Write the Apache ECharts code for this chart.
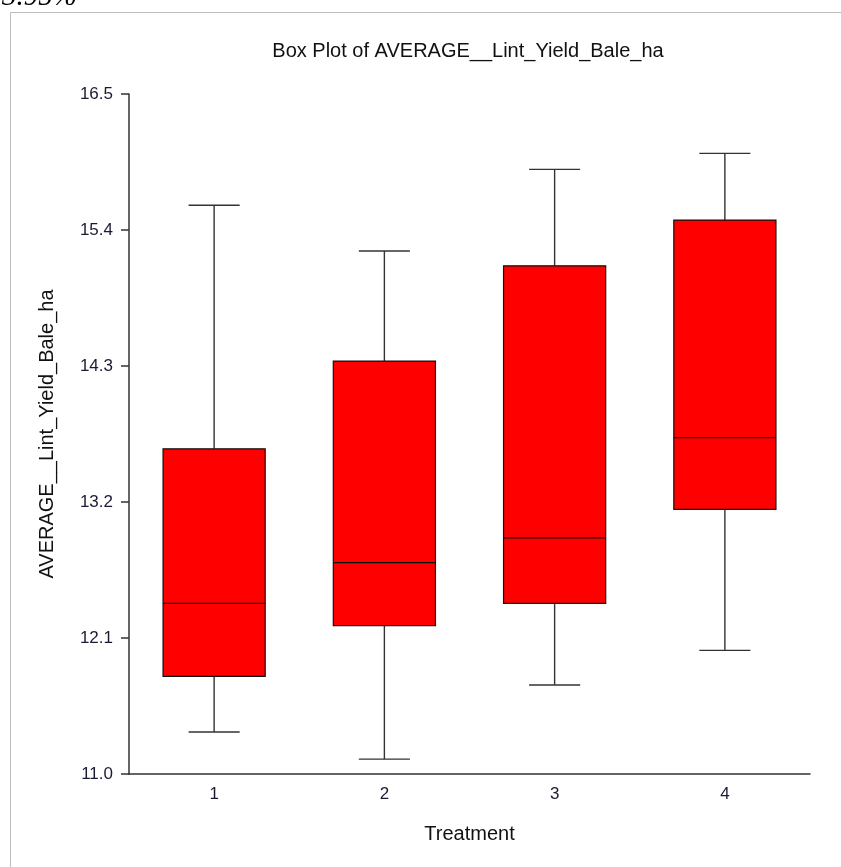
<!DOCTYPE html>
<html>
<head>
<meta charset="utf-8">
<script src="https://cdn.jsdelivr.net/npm/echarts@6/dist/echarts.min.js"></script>
<style>html,body{margin:0;padding:0;background:#fff}#c{width:841px;height:867px}</style>
</head>
<body>
<div id="c"></div>
<script>
var categories = ['1', '2', '3', '4'];
var whiskerLow = [11.34, 11.12, 11.72, 12.00];
var q1 = [11.79, 12.20, 12.38, 13.14];
var median = [12.38, 12.71, 12.91, 13.72];
var q3 = [13.63, 14.34, 15.11, 15.48];
var whiskerHigh = [15.60, 15.23, 15.89, 16.02];
var yTicks = [11.0, 12.1, 13.2, 14.3, 15.4, 16.5];

var data = categories.map(function (c, i) {
  return [i, whiskerLow[i], q1[i], median[i], q3[i], whiskerHigh[i]];
});

var chart = echarts.init(document.getElementById('c'), null, {renderer: 'canvas'});
var font = 'Liberation Sans, Arial, sans-serif';

function renderItem(params, api) {
  var x = api.value(0);
  var pLow = api.coord([x, api.value(1)]);
  var pQ1 = api.coord([x, api.value(2)]);
  var pMed = api.coord([x, api.value(3)]);
  var pQ3 = api.coord([x, api.value(4)]);
  var pHigh = api.coord([x, api.value(5)]);
  var bw = api.size([1, 0])[0] * 0.6;
  var cw = bw / 2;
  var cx = pQ1[0];
  var wStyle = {stroke: '#333', lineWidth: 1.4};
  return {
    type: 'group',
    children: [
      {type: 'line', shape: {x1: cx, y1: pHigh[1], x2: cx, y2: pQ3[1]}, style: wStyle},
      {type: 'line', shape: {x1: cx, y1: pLow[1], x2: cx, y2: pQ1[1]}, style: wStyle},
      {type: 'line', shape: {x1: cx - cw / 2, y1: pHigh[1], x2: cx + cw / 2, y2: pHigh[1]}, style: wStyle},
      {type: 'line', shape: {x1: cx - cw / 2, y1: pLow[1], x2: cx + cw / 2, y2: pLow[1]}, style: wStyle},
      {type: 'rect', shape: {x: cx - bw / 2, y: pQ3[1], width: bw, height: pQ1[1] - pQ3[1]},
        style: {fill: '#ff0000', stroke: '#111', lineWidth: 1.2}},
      {type: 'line', shape: {x1: cx - bw / 2, y1: pMed[1], x2: cx + bw / 2, y2: pMed[1]},
        style: {stroke: '#111', lineWidth: 1.2}}
    ]
  };
}

chart.setOption({
  animation: false,
  backgroundColor: '#fff',
  title: {
    text: 'Box Plot of AVERAGE__Lint_Yield_Bale_ha',
    left: 463, top: 36, textAlign: 'center',
    textStyle: {fontFamily: font, fontSize: 20, fontWeight: 'normal', color: '#111'}
  },
  graphic: [
    {type: 'rect', shape: {x: 10.5, y: 12.5, width: 900, height: 900},
      style: {fill: 'none', stroke: '#bdbdbd', lineWidth: 1}, silent: true},
    {type: 'text', left: 2, top: -17, style: {text: '3.95%', fontFamily: 'Liberation Serif, serif', fontStyle: 'italic', fontSize: 29, fill: '#000'}}
  ],
  grid: {left: 129, right: 31, top: 94, bottom: 93},
  xAxis: {
    type: 'category',
    data: categories,
    name: 'Treatment',
    nameLocation: 'middle',
    nameGap: 50,
    nameTextStyle: {fontFamily: font, fontSize: 20, color: '#111'},
    axisLine: {lineStyle: {color: '#333', width: 1.5}},
    axisTick: {alignWithLabel: true, length: 8, lineStyle: {color: '#333', width: 1.5}},
    axisLabel: {fontFamily: font, fontSize: 17, color: '#1a1a33', margin: 12},
    splitLine: {show: false}
  },
  yAxis: {
    type: 'value',
    min: 11.0, max: 16.5, interval: 1.1,
    name: 'AVERAGE__Lint_Yield_Bale_ha',
    nameLocation: 'middle',
    nameGap: 72,
    nameTextStyle: {fontFamily: font, fontSize: 20, color: '#111'},
    axisLine: {show: true, lineStyle: {color: '#333', width: 1.5}},
    axisTick: {show: true, length: 8, lineStyle: {color: '#333', width: 1.5}},
    axisLabel: {fontFamily: font, fontSize: 17, color: '#1a1a33', margin: 16,
      formatter: function (v) {
        var best = yTicks.reduce(function (a, b) { return Math.abs(b - v) < Math.abs(a - v) ? b : a; });
        return best.toFixed(1);
      }},
    splitLine: {show: false}
  },
  series: [{
    type: 'custom',
    renderItem: renderItem,
    encode: {x: 0, y: [1, 2, 3, 4, 5]},
    data: data
  }]
});
</script>
</body>
</html>
